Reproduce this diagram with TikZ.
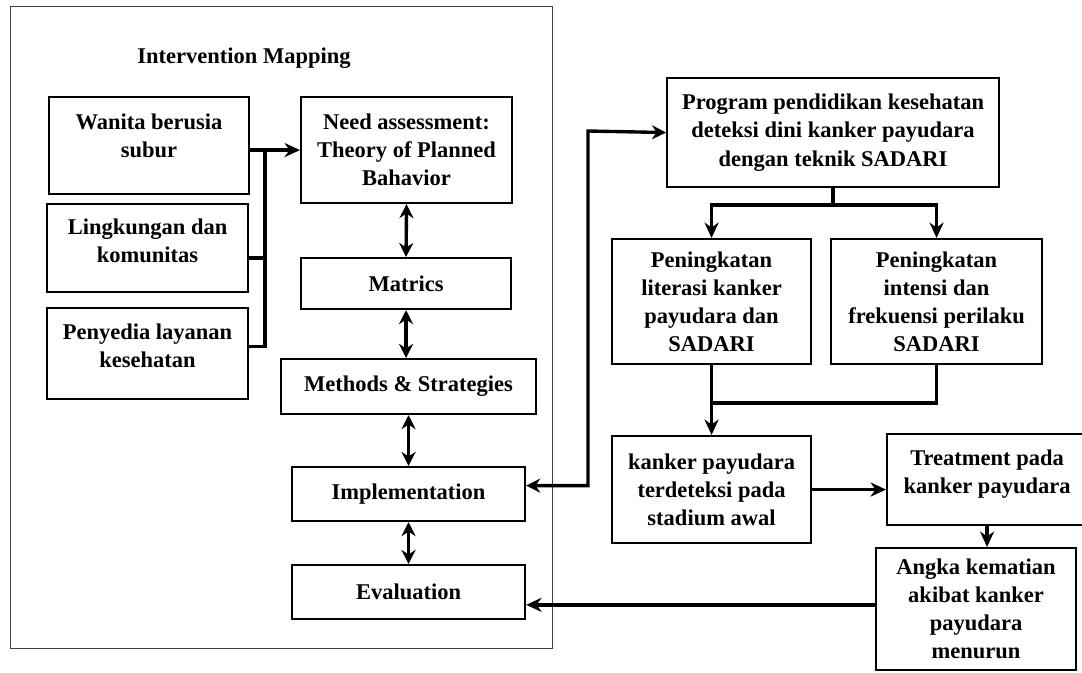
\documentclass[tikz,border=0pt]{standalone}
\usepackage{fontspec}
\setmainfont{Liberation Serif}
\usetikzlibrary{arrows.meta,calc,positioning}

\begin{document}
\begin{tikzpicture}[
  x=0.025cm, y=-0.025cm,
  >=Stealth,
  font=\fontsize{16}{20}\selectfont\bfseries,
  box/.style={draw, line width=1.5pt, align=center, inner sep=0pt, anchor=north west},
  wh/.style 2 args={minimum width=#1*0.025cm, minimum height=#2*0.025cm},
  frame/.style={draw, line width=0.7pt, black!75, anchor=north west, inner sep=0pt},
  link/.style={line width=2.4pt},
  conn/.style={link, -{Stealth[length=11pt,width=10pt]}},
  dbl/.style={line width=2.4pt, {Stealth[length=10pt,width=10pt]}-{Stealth[length=10pt,width=10pt]}}
]
\useasboundingbox (0,0) rectangle (1082,672);

\node[frame, wh={542}{642}] (im) at (10,6) {};
\node (imtitle) at (244,58) {Intervention Mapping};

\node[box, wh={200}{97}] (wanita) at (48,96) {Wanita berusia\\subur\\[-6pt]~};
\node[box, wh={201}{88}] (lingk) at (46,203) {Lingkungan dan\\komunitas\\[-9pt]~};
\node[box, wh={201}{91}] (penyedia) at (46,307) {Penyedia layanan\\kesehatan\\[-9pt]~};

\node[box, wh={211}{106}] (need) at (300,96) {Need assessment:\\Theory of Planned\\Bahavior};
\node[box, wh={210}{51}] (matrics) at (300,257) {Matrics};
\node[box, wh={255}{55}] (methods) at (280,358) {Methods \& Strategies};
\node[box, wh={233}{54}] (impl) at (291,466) {Implementation};
\node[box, wh={233}{54}] (eval) at (291,564) {Evaluation};

\node[box, wh={332}{109}] (prog) at (666,77) {Program pendidikan kesehatan\\deteksi dini kanker payudara\\dengan teknik SADARI};
\node[box, wh={199}{125}] (lit) at (611,238) {Peningkatan\\literasi kanker\\payudara dan\\SADARI};
\node[box, wh={211}{125}] (int) at (830,238) {Peningkatan\\intensi dan\\frekuensi perilaku\\SADARI};
\node[box, wh={199}{107}] (kanker) at (611,435) {kanker payudara\\terdeteksi pada\\stadium awal};
\node[box, wh={200}{91}] (treat) at (886,433) {Treatment pada\\kanker payudara\\[-9pt]~};
\node[box, wh={200}{122}] (angka) at (875,547) {Angka kematian\\akibat kanker\\payudara\\menurun};

\coordinate (busL) at (265,149);
\coordinate (busR) at (588,131);

\draw[conn] (wanita.east |- need.west) -- (need.west);
\draw[link] ([yshift=5pt]penyedia.east) -| (busL);
\draw[link] ([yshift=-7pt]lingk.east) -- ([yshift=-7pt]lingk.east -| busL);

\draw[dbl] (need.south) -- (matrics.north);
\draw[dbl] (matrics.south) -- (matrics.south |- methods.north);
\draw[dbl] (methods.south) -- (methods.south |- impl.north);
\draw[dbl] (impl.south) -- (eval.north);

\draw[dbl] ([yshift=6pt]impl.east) -| (busR) -- (prog.west);

\draw[conn] (prog.south) -- ++(0,17) -| (lit.north);
\draw[conn] (prog.south) -- ++(0,17) -| (int.north);
\draw[conn] (lit.south) -- (kanker.north);
\draw[link] (int.south) |- ($(lit.south)!0.54!(kanker.north)$);

\draw[conn] (kanker.east) -- (kanker.east -| treat.west);
\draw[conn] (treat.south) -- (treat.south |- angka.north);
\draw[conn] ([yshift=3pt]angka.west) -- ([yshift=3pt]angka.west -| eval.east);

\end{tikzpicture}
\end{document}
